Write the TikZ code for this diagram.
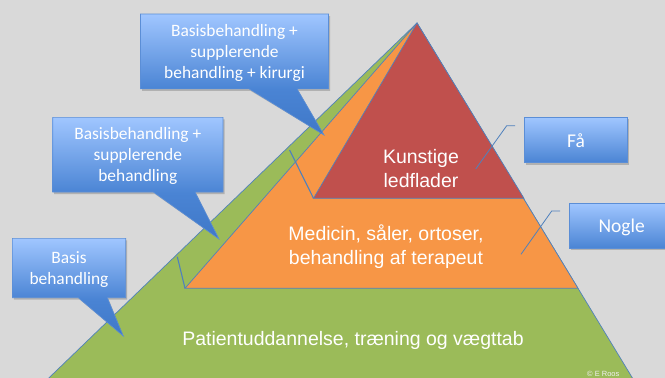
\documentclass[tikz,border=0pt]{standalone}
\usepackage{fontspec}
\setmainfont{Liberation Sans}
\newfontfamily\calib{Carlito}
\definecolor{bg}{HTML}{D9D9D9}
\definecolor{pgreen}{HTML}{9BBB59}
\definecolor{porange}{HTML}{F79646}
\definecolor{pred}{HTML}{C0504D}
\definecolor{edgeblue}{HTML}{4F81BD}
\definecolor{ctop}{HTML}{A0C6FF}
\definecolor{cbot}{HTML}{4A84D4}
\definecolor{ctip}{HTML}{3F78C8}
\definecolor{cline}{HTML}{5B8ED6}
\pgfdeclareverticalshading{calloutsh}{100bp}{color(0bp)=(ctip); color(25bp)=(ctip); color(44bp)=(cbot); color(75bp)=(ctop); color(100bp)=(ctop)}
\tikzset{
  calloutshape/.style={shading=calloutsh, draw=cline, line width=0.6pt},
  shadowshape/.style={fill=black, opacity=0.18},
  plainbox/.style={top color=ctop, bottom color=cbot, draw=cline, line width=0.6pt},
  ctext/.style={text=white, align=center, inner sep=0pt, font=\calib\fontsize{17.4}{21.3}\selectfont},
  btext/.style={text=white, align=center, inner sep=0pt, font=\calib\fontsize{19.5}{23}\selectfont},
  ptext/.style={text=white, align=center, inner sep=0pt, font=\fontsize{19.5}{24}\selectfont},
  edgeline/.style={draw=edgeblue, line width=0.7pt},
  leader/.style={draw=edgeblue, line width=0.8pt},
}
\begin{document}
\begin{tikzpicture}[x=1pt,y=-1pt]
\useasboundingbox (0,0) rectangle (665,378);
\clip (0,0) rectangle (665,378);
\fill[bg] (0,0) rectangle (665,378);
% pyramid corners
\coordinate (A) at (417,23);
\coordinate (GL) at (26,400);
\coordinate (GR) at (645.8,400);
\coordinate (OL) at (185,288.3);
\coordinate (OR) at (578,288.3);
\coordinate (RL) at (313.5,198.3);
\coordinate (RR) at (524,198.3);
% green
\fill[pgreen] (A) -- (GL) -- (GR) -- cycle;
\draw[edgeline] (GL) -- (A) -- (GR);
% orange
\fill[porange] (A) -- (OL) -- (OR) -- cycle;
\draw[edgeline] (A) -- (OL) -- (OR) -- cycle;
% red
\fill[pred] (A) -- (RL) -- (RR) -- cycle;
\draw[edgeline] (A) -- (RL) -- (RR) -- cycle;
% short leader lines at the left
\coordinate (g1) at (177.3,256.7);
\coordinate (g2) at (289.6,150);
\draw[leader, line width=1.1pt] (g1) -- (OL);
\draw[leader, line width=1.1pt] (g2) -- (RL);
% pyramid texts
\node[ptext] (kunst) at (421,168.3) {Kunstige\\ledflader};
\node[ptext] (medic) at (386,246.2) {Medicin, såler, ortoser,\\behandling af terapeut};
\node[ptext, anchor=base] (patient) at (353,345) {Patientuddannelse, træning og vægttab};
% right boxes
\fill[shadowshape] (525.5,119.3) rectangle (629.2,164.7);
\node[plainbox, minimum width=103.7pt, minimum height=45.4pt, inner sep=0pt] (fa) at (575.85,140) {};
\node[btext, anchor=base] (fatext) at (576,147) {Få};
\fill[shadowshape] (570.8,205.3) rectangle (676,250.3);
\node[plainbox, minimum width=105.7pt, minimum height=45pt, inner sep=0pt] (nogle) at (622.15,225.8) {};
\node[btext, anchor=base] (ngtext) at (621.7,232.5) {Nogle};
% leaders for right boxes
\coordinate (f1) at (515,125.7);
\coordinate (f2) at (506.7,125.7);
\coordinate (f3) at (475.7,169);
\draw[leader] (f1) -- (f2) -- (f3);
\coordinate (n1) at (560,211);
\coordinate (n2) at (551.7,211);
\coordinate (n3) at (521,254.3);
\draw[leader] (n1) -- (n2) -- (n3);
% callout 1
\coordinate (t1) at (324,135);
\fill[shadowshape, shift={(1.5,2)}] (140.5,14) -- (328.5,14) -- (328.5,88.8) -- (297,88.8) -- (t1) -- (249,88.8) -- (140.5,88.8) -- cycle;
\shade[calloutshape] (140.5,14) -- (328.5,14) -- (328.5,88.8) -- (297,88.8) -- (t1) -- (249,88.8) -- (140.5,88.8) -- cycle;
\node[ctext] (c1) at (234.5,53) {Basisbehandling +\\supplerende\\behandling + kirurgi};
% callout 2
\coordinate (t2) at (219,239);
\fill[shadowshape, shift={(1.5,2)}] (52.7,117.3) -- (223,117.3) -- (223,192) -- (195,192) -- (t2) -- (153.3,192) -- (52.7,192) -- cycle;
\shade[calloutshape] (52.7,117.3) -- (223,117.3) -- (223,192) -- (195,192) -- (t2) -- (153.3,192) -- (52.7,192) -- cycle;
\node[ctext] (c2) at (137.8,155.8) {Basisbehandling +\\supplerende\\behandling};
% callout 3
\coordinate (t3) at (123.3,336);
\fill[shadowshape, shift={(1.5,2)}] (12.3,238.3) -- (125.7,238.3) -- (125.7,297.7) -- (107.3,297.7) -- (t3) -- (78.3,297.7) -- (12.3,297.7) -- cycle;
\shade[calloutshape] (12.3,238.3) -- (125.7,238.3) -- (125.7,297.7) -- (107.3,297.7) -- (t3) -- (78.3,297.7) -- (12.3,297.7) -- cycle;
\node[ctext] (c3) at (69,269.4) {Basis\\behandling};
% copyright
\node[anchor=base west, inner sep=0pt, text=white!88!gray, font=\fontsize{7.5}{9}\selectfont] (copy) at (587,376.3) {© E Roos};
\end{tikzpicture}
\end{document}
